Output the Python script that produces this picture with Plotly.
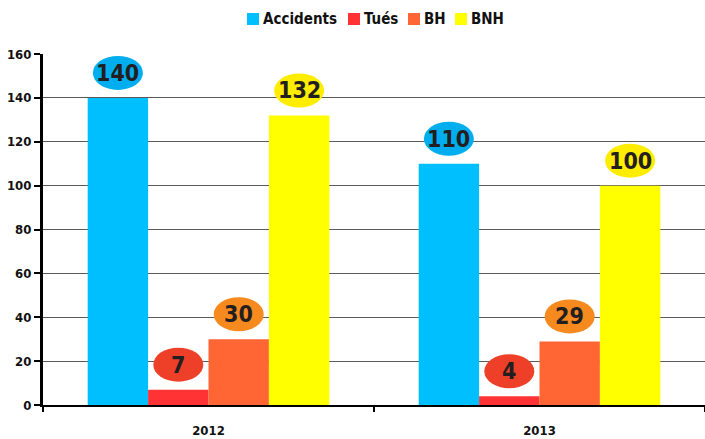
import plotly.graph_objects as go

# Data
years = ["2012", "2013"]
series_names = ["Accidents", "Tués", "BH", "BNH"]
accidents = [140, 110]
tues = [7, 4]
bh = [30, 29]
bnh = [132, 100]
y_ticks = [0, 20, 40, 60, 80, 100, 120, 140, 160]

series_values = [accidents, tues, bh, bnh]
bar_colors = ["#00BFFF", "#FF3333", "#FF6633", "#FFFF00"]
bubble_colors = ["#00AEEF", "#EE4028", "#F68A1F", "#FFED00"]

W, H = 705, 439
ML, MR, MT, MB = 43, 0, 54, 34
BARGAP = 0.27
FONT = "DejaVu Sans Condensed, Roboto, sans-serif"


def px_to_paper(px, py):
    """Convert page pixel coords to paper coords of the plot area."""
    pw = W - ML - MR
    ph = H - MT - MB
    return (px - ML) / pw, (H - MB - py) / ph


fig = go.Figure()
for name, vals, col in zip(series_names, series_values, bar_colors):
    fig.add_trace(go.Bar(
        name=name, x=years, y=vals, marker=dict(color=col, line=dict(width=0)),
        showlegend=False,
    ))

# Value bubbles: ellipse above each bar with its value
n = len(series_names)
bar_w = (1 - BARGAP) / n
shapes = []
annotations = []
for i, (vals, bcol) in enumerate(zip(series_values, bubble_colors)):
    for j, v in enumerate(vals):
        xc = j - (1 - BARGAP) / 2 + bar_w * (i + 0.5)
        shapes.append(dict(
            type="circle", xref="x", yref="y",
            xsizemode="pixel", ysizemode="pixel",
            xanchor=xc, yanchor=v,
            x0=-25, x1=25, y0=8, y1=42,
            fillcolor=bcol, line=dict(width=0), layer="above",
        ))
        annotations.append(dict(
            x=xc, y=v, xref="x", yref="y", text=str(v), showarrow=False,
            yshift=25, font=dict(family=FONT, size=23, color="#231F20", weight="bold"),
        ))

# Compact legend row at the top: colour square followed by series name
legend_x = [247, 348, 408, 455]
for lx, name, col in zip(legend_x, series_names, bar_colors):
    x0, y0 = px_to_paper(lx, 25)
    x1, y1 = px_to_paper(lx + 12, 13)
    shapes.append(dict(type="rect", xref="paper", yref="paper",
                       x0=x0, x1=x1, y0=y0, y1=y1,
                       fillcolor=col, line=dict(width=0)))
    tx, ty = px_to_paper(lx + 14, 19)
    annotations.append(dict(
        x=tx, y=ty, xref="paper", yref="paper", text=name, showarrow=False,
        xanchor="left", yanchor="middle",
        font=dict(family=FONT, size=15, color="#111111", weight="bold"),
    ))

fig.update_layout(
    width=W, height=H,
    margin=dict(l=ML, r=MR, t=MT, b=MB),
    paper_bgcolor="white", plot_bgcolor="white",
    barmode="group", bargap=BARGAP, bargroupgap=0,
    font=dict(family=FONT, color="#111111"),
    showlegend=False,
    shapes=shapes, annotations=annotations,
)

fig.update_xaxes(
    type="category", range=[-0.5, 1.5],
    showline=True, linecolor="black", linewidth=2,
    ticks="outside", tickson="boundaries", ticklen=5, tickwidth=2, tickcolor="black",
    tickfont=dict(family=FONT, size=13, color="#111111", weight="bold"),
    ticklabelstandoff=12,
    showgrid=False,
)
fig.update_yaxes(
    range=[0, 160], tickvals=y_ticks,
    showline=True, linecolor="black", linewidth=3,
    ticks="outside", ticklen=6, tickwidth=2, tickcolor="black",
    showgrid=True, gridcolor="#5a5a5a", gridwidth=1,
    tickfont=dict(family=FONT, size=13, color="#111111", weight="bold"),
    zeroline=False,
)

fig.write_html("out.html")
